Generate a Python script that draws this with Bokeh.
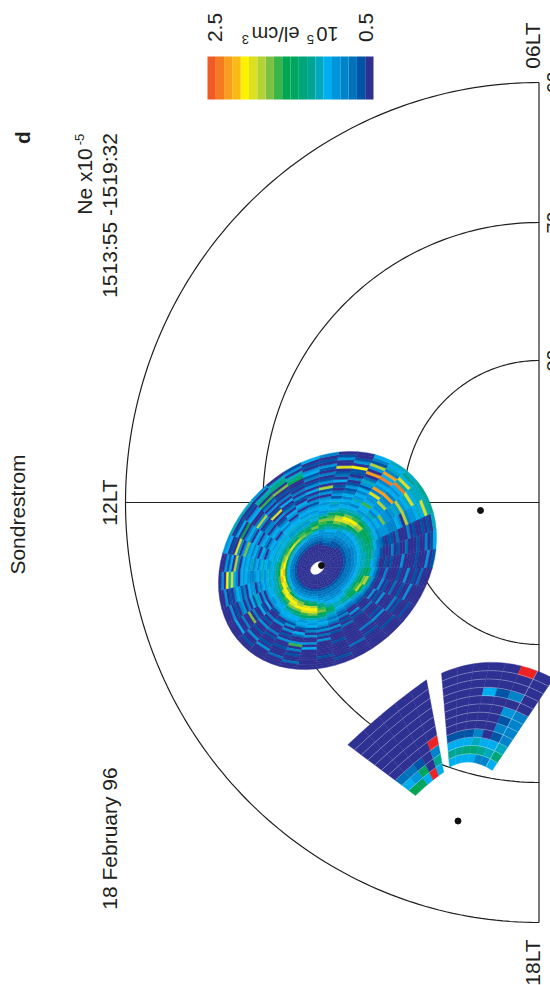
import numpy as np
from bokeh.plotting import figure
from bokeh.models import Range1d
from bokeh.core.properties import value
from bokeh.embed import file_html
from bokeh.resources import INLINE

# colour levels: 0.5 .. 2.5 x 10^5 el/cm3 in 0.1 steps, plus one off-scale red
PALETTE = ["#2E3192", "#0054A6", "#0072BC", "#0083CA", "#0095DA", "#00AEEF", "#00A9C0",
           "#00A694", "#00A67A", "#00A660", "#00A651", "#39B54A", "#7AC143", "#B2D235",
           "#DBE020", "#FFF200", "#FDB913", "#F99D1C", "#F47B20", "#F15A24", "#ED2224"]

# Sondrestrom scan: one string per 10 degree azimuth sector, clockwise from the top of the page,
# one base-21 digit (colour level) per range ring, from the centre outwards
SCAN_SECTORS = [
    "0000000" "0123445" "68acb96" "5465142" "0105021" "0e00410",
    "0000000" "0123445" "79ceda7" "6545352" "1410301" "1f04100",
    "0000000" "0112344" "68befc7" "6535645" "3514620" "h04d135",
    "0000000" "0112344" "57adfb8" "6455b54" "4e3h453" "i5h3656",
    "0000000" "0012344" "569cda7" "5463544" "d43h354" "5i6e576",
    "0000000" "0012344" "5689a87" "5454c44" "3464d45" "6e56667",
    "0000000" "0012234" "5678a86" "5344433" "3540d34" "4565e67",
    "0000000" "0012234" "5678875" "3210110" "2000301" "0010106",
    "0000000" "0012234" "5667864" "3100030" "1002000" "1003015",
    "0000000" "0012234" "5667754" "2001010" "0040000" "1000401",
    "0000000" "0012234" "5678a75" "3100300" "0010040" "0102000",
    "0000000" "0012234" "568acd8" "4100401" "0020010" "0400000",
    "0000000" "0012234" "569bda6" "3104010" "4000030" "1000100",
    "0000000" "0012234" "5689a64" "2100020" "0010400" "0010000",
    "0000000" "0012233" "4567753" "2004010" "0000300" "1000000",
    "0000000" "0012233" "4556654" "2130102" "0000000" "0200000",
    "0000000" "0012234" "4567a86" "4242040" "1000100" "0000100",
    "0000000" "0012234" "578bca8" "6454140" "2040000" "0010000",
    "0000000" "0012345" "79dfec9" "6545130" "4004050" "0000000",
    "0000000" "0012345" "8aefeb9" "6454105" "2004b03" "0100200",
    "0000000" "0012345" "8cdfc97" "5541404" "0104001" "0002000",
    "0000000" "0012345" "8dfec86" "5540140" "0030100" "1040000",
    "0000000" "0012346" "9efb865" "5410030" "1040010" "0400100",
    "0000000" "0012357" "cfea765" "4405015" "0030c00" "3005000",
    "0000000" "0012358" "efb8665" "5404046" "1503043" "0104000",
    "0000000" "0012358" "fgb7656" "5453404" "4503145" "3010400",
    "0000000" "0012359" "gfa7656" "5464543" "3454503" "5e6f040",
    "0000000" "0012359" "fd97656" "4565353" "6454503" "d051400",
    "0000000" "0012359" "ec86565" "5404503" "5354c40" "4e01054",
    "0000000" "0012358" "db86565" "4541354" "0450353" "0a05106",
    "0000000" "0012358" "ea76565" "4045403" "3104d30" "0540106",
    "0000000" "0012358" "d976465" "5353104" "0e10403" "1b07604",
    "0000000" "0012357" "cb86465" "5404503" "1050301" "0c08760",
    "0000000" "0012346" "ba86465" "4540450" "1403010" "0a76041",
    "0000000" "0012345" "8ca8565" "4541403" "0504103" "1540105",
    "0000000" "0012344" "79bc964" "5545404" "1d04103" "0140103",
]

# right-hand fan: rows from the inner arc outwards, 7 sectors from left to right
FAN_RIGHT = [
    [5, 5, 5, 5, 3, 3, 5],
    [7, 7, 8, 8, 7, 6, 8],
    [5, 5, 5, 6, 5, 5, 6],
    [1, 1, 1, 3, 0, 1, 3],
    [0, 0, 0, 0, 0, 3, 3],
    [0, 0, 0, 0, 0, 1, 3],
    [0, 0, 0, 0, 0, 4, 3],
    [0, 0, 0, 0, 0, 0, 0],
    [0, 0, 0, 5, 1, 3, 0],
    [0, 0, 0, 0, 0, 0, 0],
    [0, 0, 0, 0, 0, 0, 0],
    [0, 0, 0, 0, 0, 20, 0],
]
# left-hand fan: 5 sectors
FAN_LEFT = [
    [10, 9, 5, 20, 5],
    [5, 4, 9, 0, 7],
    [2, 2, 1, 0, 3],
    [0, 0, 0, 0, 20],
    [0, 0, 0, 0, 0],
    [0, 0, 0, 0, 0],
    [0, 0, 0, 0, 0],
    [0, 0, 0, 0, 0],
    [0, 0, 0, 0, 0],
    [0, 0, 0, 0, 0],
]

LAT_CIRCLES = [60, 70, 80]
LAT_LABELS = ["60", "70", "80"]
LT_LABELS = ["06LT", "12LT", "18LT"]
BAR_LOW, BAR_HIGH = "0.5", "2.5"

INK = "#231F20"
FONT = value("Liberation Sans")
CX, CY = 538.5, 502.0
RX = {60: 413.5, 70: 276.0, 80: 135.5}
RY = {60: 420.0, 70: 280.0, 80: 142.0}

p = figure(width=550, height=985, output_backend="svg", toolbar_location=None,
           x_range=Range1d(0, 550), y_range=Range1d(985, 0), min_border=0,
           outline_line_color=None, background_fill_color="white")
p.axis.visible = False
p.grid.visible = False

# polar frame
th = np.radians(np.linspace(0, 180, 181))
for lat in LAT_CIRCLES:
    p.line(CX - RX[lat] * np.sin(th), CY - RY[lat] * np.cos(th), line_color=INK, line_width=1.2)
p.line([CX, CX], [CY - RY[60], CY + RY[60]], line_color=INK, line_width=1.2)
p.line([CX - RX[60], CX], [CY, CY], line_color=INK, line_width=1.2)
p.scatter([480, 457.5], [510, 820.5], size=6, color="#111111")


# tilted-ellipse scan
def scan_xy(f, t_deg):
    t = np.radians(t_deg)
    u, v = np.sin(t), -np.cos(t)
    a = np.radians(-45.0)
    major, minor = 120.0, 97.0
    ca, sa = np.cos(a), np.sin(a)
    pu = u * ca + v * sa
    pv = -u * sa + v * ca
    x = major * pu * ca - minor * pv * sa
    y = major * pu * sa + minor * pv * ca
    return 317.5 + 9.5 * f + f * x, 567.0 - 7.0 * f + f * y


xs, ys, cs = [], [], []
n_rings = len(SCAN_SECTORS[0])
for k, sector in enumerate(SCAN_SECTORS):
    t0, t1 = k * 10.0, (k + 1) * 10.0
    for i, ch in enumerate(sector):
        level = int(ch, 21)
        f0, f1 = i / n_rings, (i + 1) / n_rings
        pts = [scan_xy(f0, t0), scan_xy(f0, t1), scan_xy(f1, t1), scan_xy(f1, (t0 + t1) / 2), scan_xy(f1, t0)]
        xs.append([q[0] for q in pts])
        ys.append([q[1] for q in pts])
        cs.append(PALETTE[level])
p.patches(xs, ys, fill_color=cs, line_color=cs, line_width=0.4)
p.ellipse([317], [567.5], width=15, height=10, angle=0.7, fill_color="white", line_color="white")
p.scatter([321], [565], size=6, color="#111111")


# fans: each arc is a curve through three points; rows lie between inner and outer arc
def curve(c, s):
    c = np.array(c, dtype=float)
    return (2 * (s - .5) * (s - 1))[:, None] * c[0] + (-4 * s * (s - 1))[:, None] * c[1] + (2 * s * (s - .5))[:, None] * c[2]


def fan(grid, inner, outer):
    nr, ns = len(grid), len(grid[0])
    fx, fy, fc = [], [], []

    def pt(q, s):
        s = np.atleast_1d(s)
        return (1 - q) * curve(inner, s) + q * curve(outer, s)

    for i, row in enumerate(grid):
        for j, lev in enumerate(row):
            ss = np.linspace(j / ns, (j + 1) / ns, 5)
            a, b = pt(i / nr, ss), pt((i + 1) / nr, ss[::-1])
            poly = np.vstack([a, b])
            fx.append(list(poly[:, 0]))
            fy.append(list(poly[:, 1]))
            fc.append(PALETTE[lev])
    p.patches(fx, fy, fill_color=fc, line_color=fc, line_width=0.4)
    ss = np.linspace(0, 1, 40)
    arcs = [pt(i / nr, ss) for i in range(1, nr)]
    p.multi_line([list(a[:, 0]) for a in arcs], [list(a[:, 1]) for a in arcs],
                 line_color="white", line_width=0.6, line_alpha=0.5)
    return pt


fan(FAN_LEFT, [(415, 795), (430, 781.7), (443.3, 771.7)], [(347.3, 744.3), (386.7, 709.3), (426, 679.3)])
right = fan(FAN_RIGHT, [(449, 766.7), (470, 761.7), (491.7, 770)], [(441, 672.7), (497, 662), (553, 678)])
diag = np.array([right(q, 6 / 7)[0] for q in np.linspace(0, 1, 8)])
p.line(diag[:, 0], diag[:, 1], line_color="white", line_width=0.6, line_alpha=0.6)

# colour bar
n = len(PALETTE) - 1
w = (373.0 - 207.0) / n
lefts = [373.0 - (k + 1) * w for k in range(n)]
rights = [373.0 - k * w for k in range(n)]
p.quad(left=lefts, right=rights, top=[56.0] * n, bottom=[99.0] * n, fill_color=PALETTE[:n], line_color=None)


def label(x, y, s, size=21, angle=np.pi / 2, bold=False, align="center", base="middle"):
    p.text([x], [y], text=[s], text_font=FONT, text_font_size=f"{size}px", text_color=INK,
           angle=angle, text_align=align, text_baseline=base,
           text_font_style="bold" if bold else "normal")


label(17, 514, "Sondrestrom")
label(109, 838, "18 February 96")
label(84, 181, "Ne x10", align="center")
label(79, 139, "-5", size=13)
label(109, 215, "1513:55 -1519:32")
label(22, 137, "d", bold=True)
label(109, 502, LT_LABELS[1])
label(532, 45, LT_LABELS[0])
label(532, 962, LT_LABELS[2])
label(214, 27, BAR_HIGH)
label(365, 27, BAR_LOW)
label(327, 33, "10", size=20, angle=np.pi)
label(310, 39, "5", size=13, angle=np.pi)
label(275, 33, "el/cm", size=20, angle=np.pi)
label(245, 39, "3", size=13, angle=np.pi)
for lat, s in zip(LAT_CIRCLES, LAT_LABELS):
    label(553, CY - RY[lat], s, size=20)

open("out.html", "w").write(file_html(p, INLINE))
